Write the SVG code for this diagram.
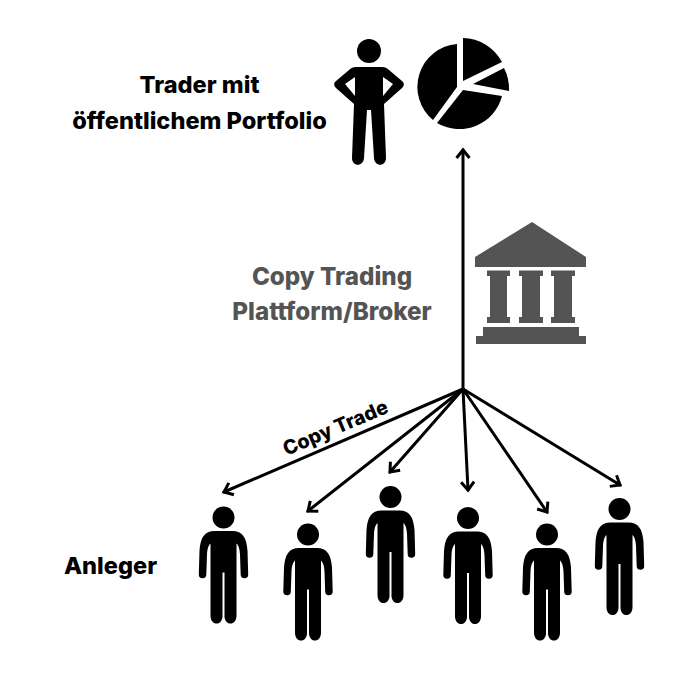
<svg xmlns="http://www.w3.org/2000/svg" width="700" height="700" viewBox="0 0 700 700">
<style>
text{font-family:"Inter","Liberation Sans",sans-serif;font-weight:800;text-anchor:middle}
.k{fill:#000}.g{fill:#545454}
.t{font-size:23.600px}.c{font-size:24.200px}.l{font-size:19.800px}
.a{fill:none;stroke:#000;stroke-width:3;stroke-linecap:round}
</style>
<defs>
<marker id="h" markerUnits="userSpaceOnUse" markerWidth="18" markerHeight="18" refX="15" refY="9" orient="auto" viewBox="0 0 18 18"><path d="M7 2.500L15 9L7 15.500" fill="none" stroke="#000" stroke-width="3"/></marker>
<g id="p"><circle cx="0" cy="0" r="11"/>
<path d="M-9 13.500H9C19 13.500 23 20 24 33L24.700 57A3.750 3.750 0 0 1 17.200 57L16.500 37C16.200 31 15 28 13 26V98C13 108.500 2 108.500 1 99.500V55H-1V99.500C-2 108.500-13 108.500-13 98V26C-15 28-16.200 31-16.500 37L-17.200 57A3.750 3.750 0 0 1-24.700 57L-24 33C-23 20-19 13.500-9 13.500Z"/></g>
</defs>
<rect width="700" height="700" fill="#fff"/>
<g id="connectors">
<path class="a" marker-end="url(#h)" d="M463 389V150"/>
<path class="a" marker-end="url(#h)" d="M463 389L224 492"/>
<path class="a" marker-end="url(#h)" d="M463 389L308 511"/>
<path class="a" marker-end="url(#h)" d="M463 389L390 472"/>
<path class="a" marker-end="url(#h)" d="M463 389L468 490"/>
<path class="a" marker-end="url(#h)" d="M463 389L547 512"/>
<path class="a" marker-end="url(#h)" d="M463 389L620 485"/>
</g>
<g id="trader-label"><text class="t" x="199.500" y="93">Trader mit</text><text class="t" x="199.500" y="129">öffentlichem Portfolio</text></g>
<g id="trader" class="k"><circle cx="369" cy="51" r="12"/>
<path fill-rule="evenodd" d="M356 67H382C385 67 387 68 389 70L402 81C404.500 83 404.500 85.500 402 88L384 104L386 158C386 167 374.500 167 374 158L371 110H367L364 158C363.500 167 352 167 352 158L354 104L336 88C333.500 85.500 333.500 83 336 81L349 70C351 68 353 67 356 67ZM355 77L345 84L355 96ZM383 77V96L393 84Z"/></g>
<g id="pie" class="k">
<path d="M457 44A43 43 0 0 0 433 120L457 87Z"/>
<path d="M463 38A45 45 0 0 1 502 62L463 81Z"/>
<path d="M504 68A46 46 0 0 1 509 91L473 84Z"/>
<path d="M502 96A44 44 0 0 1 437 123L463 90Z"/>
</g>
<g id="platform-label"><text class="c g" x="332" y="285">Copy Trading</text><text class="c g" x="332" y="320">Plattform/Broker</text></g>
<g id="bank" class="g">
<path d="M532 222L586 257V267H475V257Z"/>
<path d="M487 270.500H510V276H507V317H510V323H487V317H490V276H487Z"/>
<path d="M519 270.500H543V276H540V317H543V323H519V317H522V276H519Z"/>
<path d="M551 270.500H575V276H572V317H575V323H551V317H554V276H551Z"/>
<path d="M483 327H579V336H586V344H476V336H483Z"/>
</g>
<text id="copy-trade" class="l" transform="translate(338 434) rotate(-23)">Copy Trade</text>
<text id="anleger" class="t" x="110.500" y="574">Anleger</text>
<g id="investor-1"><use href="#p" x="223.500" y="517.500"/></g>
<g id="investor-2"><use href="#p" x="308" y="534.500"/></g>
<g id="investor-3"><use href="#p" x="390.500" y="497"/></g>
<g id="investor-4"><use href="#p" x="468" y="518"/></g>
<g id="investor-5"><use href="#p" x="547" y="534.500"/></g>
<g id="investor-6"><use href="#p" x="619.500" y="509"/></g>
</svg>
